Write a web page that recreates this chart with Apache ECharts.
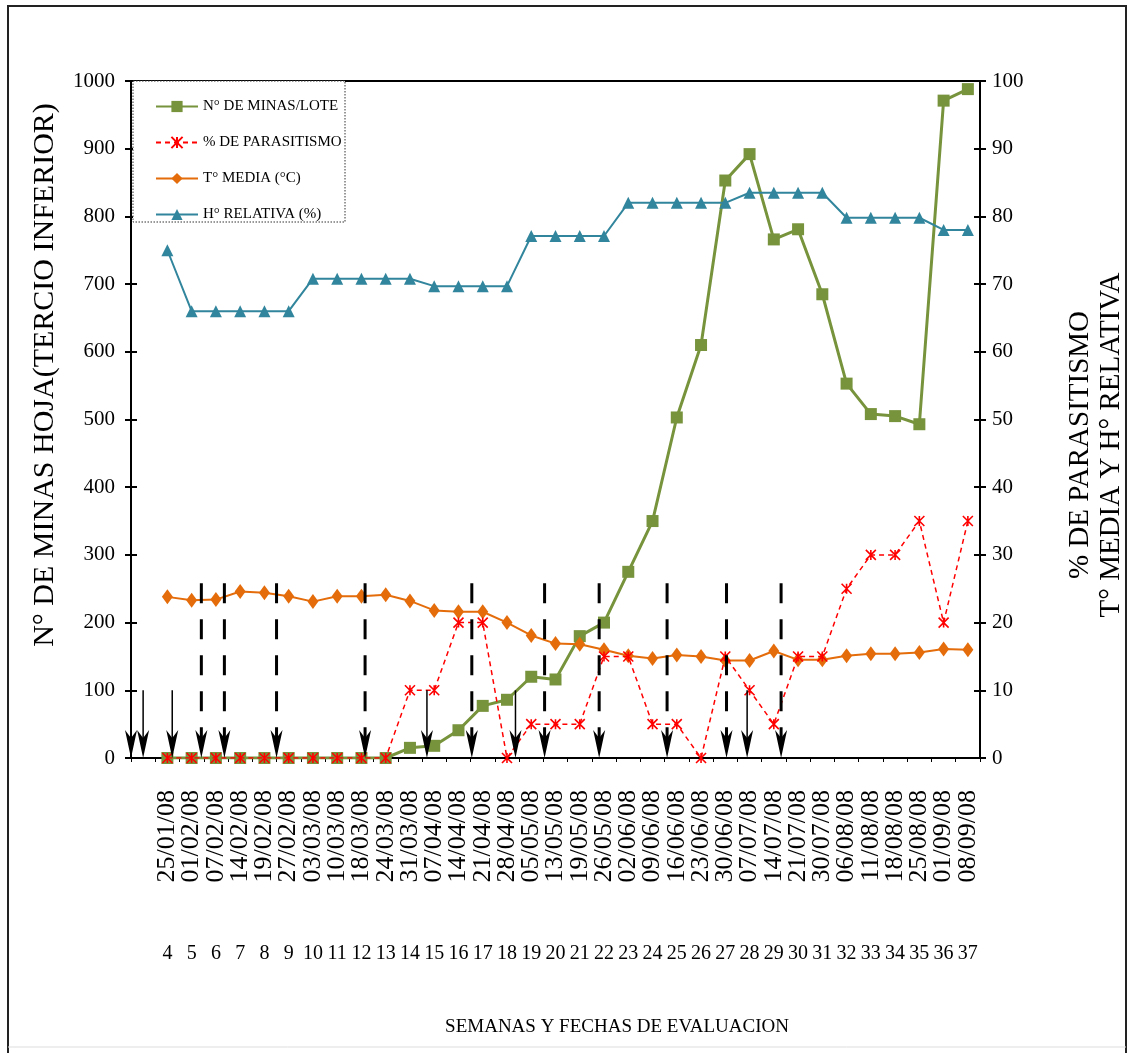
<!DOCTYPE html>
<html>
<head>
<meta charset="utf-8">
<script src="https://cdn.jsdelivr.net/npm/echarts@6/dist/echarts.min.js"></script>
<style>
  html, body { margin: 0; padding: 0; background: #fff; }
  #chart { width: 1127px; height: 1053px; }
</style>
</head>
<body>
<div id="chart"></div>
<script>
// Semanas de evaluación (4 a 37) y sus fechas
const weeks = [4, 5, 6, 7, 8, 9, 10, 11, 12, 13, 14, 15, 16, 17, 18, 19, 20, 21, 22, 23, 24, 25, 26, 27, 28, 29, 30, 31, 32, 33, 34, 35, 36, 37];
const dates = ['25/01/08', '01/02/08', '07/02/08', '14/02/08', '19/02/08', '27/02/08', '03/03/08', '10/03/08', '18/03/08', '24/03/08',
  '31/03/08', '07/04/08', '14/04/08', '21/04/08', '28/04/08', '05/05/08', '13/05/08', '19/05/08', '26/05/08', '02/06/08',
  '09/06/08', '16/06/08', '23/06/08', '30/06/08', '07/07/08', '14/07/08', '21/07/08', '30/07/08', '06/08/08', '11/08/08',
  '18/08/08', '25/08/08', '01/09/08', '08/09/08'];

// N° de minas por lote (eje izquierdo)
const minas = [0, 0, 0, 0, 0, 0, 0, 0, 0, 0, 15, 18, 41, 77, 86, 120, 116, 180, 200, 275,
  350, 503, 610, 853, 892, 766, 781, 685, 553, 508, 505, 493, 971, 988];
// % de parasitismo (eje derecho)
const parasitismo = [0, 0, 0, 0, 0, 0, 0, 0, 0, 0, 10, 10, 20, 20, 0, 5, 5, 5, 15, 15,
  5, 5, 0, 15, 10, 5, 15, 15, 25, 30, 30, 35, 20, 35];
// Temperatura media (°C) (eje derecho)
const tMedia = [23.8, 23.3, 23.4, 24.6, 24.4, 23.9, 23.1, 23.9, 23.9, 24.1, 23.2, 21.8, 21.6, 21.6, 20.0, 18.1, 16.9, 16.8, 16.0, 15.1,
  14.7, 15.2, 15.0, 14.4, 14.4, 15.8, 14.5, 14.5, 15.1, 15.4, 15.4, 15.6, 16.1, 16.0];
// Humedad relativa (%) (eje derecho)
const hRelativa = [75, 66, 66, 66, 66, 66, 70.8, 70.8, 70.8, 70.8, 70.8, 69.7, 69.7, 69.7, 69.7, 77.1, 77.1, 77.1, 77.1, 82,
  82, 82, 82, 82, 83.5, 83.5, 83.5, 83.5, 79.8, 79.8, 79.8, 79.8, 78, 78];

// Flechas de aplicación: semana (posición fraccional) y altura en N° de minas
const solidArrowWeeks = [2.5, 3.0, 4.2, 14.7, 18.35, 27.9];
const solidArrowTop = 100;
const dashedArrowWeeks = [5.4, 6.35, 8.5, 12.15, 16.55, 19.55, 21.8, 24.6, 27.05, 29.3];
const dashedArrowTop = 258;

const FONT = "'Liberation Serif', 'Times New Roman', serif";

// the first slot (week 3) is left empty
const catDates = [''].concat(dates);
const catWeeks = [''].concat(weeks.map(String));
const pad = arr => [null].concat(arr);

const arrows = solidArrowWeeks.map(w => [w, solidArrowTop, 0])
  .concat(dashedArrowWeeks.map(w => [w, dashedArrowTop, 1]));

const chart = echarts.init(document.getElementById('chart'), null, { renderer: 'canvas' });

const option = {
  backgroundColor: '#fff',
  animation: false,
  textStyle: { fontFamily: FONT, color: '#000' },
  grid: {
    left: 131, right: 147, top: 81, bottom: 295,
    show: true, borderColor: '#000', borderWidth: 2
  },
  legend: {
    data: ['N° DE MINAS/LOTE', '% DE PARASITISMO', 'T° MEDIA (°C)', 'H° RELATIVA (%)'],
    orient: 'vertical',
    left: 150, top: 94,
    itemWidth: 42, itemHeight: 14, itemGap: 21,
    textStyle: { fontFamily: FONT, fontSize: 15, color: '#000' },
    z: 20
  },
  xAxis: [
    {
      type: 'category', data: catDates, position: 'bottom', boundaryGap: true,
      axisLine: { lineStyle: { color: '#000', width: 2 } },
      axisTick: { show: true, length: 4, interval: 0, lineStyle: { color: '#000' } },
      axisLabel: { interval: 0, rotate: 90, margin: 32, fontSize: 26, fontFamily: FONT, color: '#000' }
    },
    {
      type: 'category', data: catWeeks, position: 'bottom', boundaryGap: true,
      axisLine: { show: false }, axisTick: { show: false },
      axisLabel: { interval: 0, margin: 186, fontSize: 20, fontFamily: FONT, color: '#000' }
    },
    { type: 'value', min: 2.5, max: 37.5, show: false }
  ],
  yAxis: [
    {
      type: 'value', min: 0, max: 1000, interval: 100, position: 'left',
      axisLine: { show: true, lineStyle: { color: '#000', width: 2 } },
      axisTick: { show: true, length: 6, lineStyle: { color: '#000', width: 2 } },
      axisLabel: { margin: 16, fontSize: 21, fontFamily: FONT, color: '#000', formatter: v => String(v) },
      splitLine: { show: false }
    },
    {
      type: 'value', min: 0, max: 100, interval: 10, position: 'right',
      axisLine: { show: true, lineStyle: { color: '#000', width: 2 } },
      axisTick: { show: true, length: 6, lineStyle: { color: '#000', width: 2 } },
      axisLabel: { margin: 12, fontSize: 21, fontFamily: FONT, color: '#000', formatter: v => String(v) },
      splitLine: { show: false }
    },
    {
      type: 'value', min: 0, max: 1000, interval: 100, position: 'left',
      axisLine: { show: false }, axisLabel: { show: false }, splitLine: { show: false },
      axisTick: { show: true, inside: true, length: 6, lineStyle: { color: '#000', width: 2 } }
    },
    {
      type: 'value', min: 0, max: 100, interval: 10, position: 'right',
      axisLine: { show: false }, axisLabel: { show: false }, splitLine: { show: false },
      axisTick: { show: true, inside: true, length: 6, lineStyle: { color: '#000', width: 2 } }
    }
  ],
  series: [
    {
      name: 'N° DE MINAS/LOTE', type: 'line', xAxisIndex: 0, yAxisIndex: 0,
      data: pad(minas),
      symbol: 'rect', symbolSize: 12,
      lineStyle: { color: '#77933C', width: 3 },
      itemStyle: { color: '#77933C' },
      z: 3
    },
    {
      name: '% DE PARASITISMO', type: 'line', xAxisIndex: 0, yAxisIndex: 1,
      data: pad(parasitismo),
      symbol: 'path://M0,0L10,10M10,0L0,10M5,0L5,10', symbolSize: 10,
      lineStyle: { color: '#FF0000', width: 1.5, type: [5, 4] },
      itemStyle: { color: 'rgba(0,0,0,0)', borderColor: '#FF0000', borderWidth: 1.6 },
      z: 4
    },
    {
      name: 'T° MEDIA (°C)', type: 'line', xAxisIndex: 0, yAxisIndex: 1,
      data: pad(tMedia),
      symbol: 'diamond', symbolSize: [11, 15],
      lineStyle: { color: '#E46C0A', width: 2 },
      itemStyle: { color: '#E46C0A' },
      z: 3
    },
    {
      name: 'H° RELATIVA (%)', type: 'line', xAxisIndex: 0, yAxisIndex: 1,
      data: pad(hRelativa),
      symbol: 'triangle', symbolSize: 12,
      lineStyle: { color: '#31859C', width: 2 },
      itemStyle: { color: '#31859C' },
      z: 3
    },
    {
      name: 'flechas', type: 'custom', xAxisIndex: 2, yAxisIndex: 0,
      data: arrows, encode: { x: 0, y: 1 }, z: 6, silent: true,
      renderItem: function (params, api) {
        const pTop = api.coord([api.value(0), api.value(1)]);
        const pBot = api.coord([api.value(0), 0]);
        const dashed = api.value(2) === 1;
        const x = pTop[0], yb = pBot[1];
        const headH = 28, headW = 12, notch = 8;
        const lineEnd = yb - headH + notch;
        return {
          type: 'group',
          children: [
            {
              type: 'line',
              shape: { x1: x, y1: pTop[1], x2: x, y2: lineEnd },
              style: { stroke: '#000', lineWidth: dashed ? 3 : 1.5, lineDash: dashed ? [20, 16] : null }
            },
            {
              type: 'polygon',
              shape: { points: [[x, yb], [x - headW / 2, yb - headH], [x, lineEnd], [x + headW / 2, yb - headH]] },
              style: { fill: '#000' }
            }
          ]
        };
      }
    }
  ],
  graphic: [
    // marco exterior
    { type: 'polyline', shape: { points: [[8, 1053], [8, 6], [1126, 6], [1126, 1053]] }, style: { stroke: '#222', lineWidth: 2, fill: null }, z: 0 },
    { type: 'line', shape: { x1: 8, y1: 1047, x2: 1126, y2: 1047 }, style: { stroke: '#ddd', lineWidth: 1 }, z: 0 },
    // recuadro de la leyenda
    { type: 'rect', shape: { x: 133, y: 81, width: 212, height: 141 }, style: { fill: '#fff', stroke: '#333', lineWidth: 1, lineDash: [1.5, 1.5] }, z: 10 },
    // títulos de ejes
    {
      type: 'text', x: 45, y: 375, rotation: Math.PI / 2,
      style: { text: 'N° DE MINAS HOJA(TERCIO INFERIOR)', font: "30px 'Liberation Serif', 'Times New Roman', serif", fill: '#000', align: 'center', verticalAlign: 'middle' }
    },
    {
      type: 'text', x: 1080, y: 445, rotation: Math.PI / 2,
      style: { text: '% DE PARASITISMO', font: "29px 'Liberation Serif', 'Times New Roman', serif", fill: '#000', align: 'center', verticalAlign: 'middle' }
    },
    {
      type: 'text', x: 1111, y: 445, rotation: Math.PI / 2,
      style: { text: 'T° MEDIA Y H° RELATIVA', font: "29px 'Liberation Serif', 'Times New Roman', serif", fill: '#000', align: 'center', verticalAlign: 'middle' }
    },
    {
      type: 'text', x: 617, y: 1027,
      style: { text: 'SEMANAS Y FECHAS DE EVALUACION', font: "19px 'Liberation Serif', 'Times New Roman', serif", fill: '#000', align: 'center', verticalAlign: 'middle' }
    }
  ]
};

chart.setOption(option);
</script>
</body>
</html>
